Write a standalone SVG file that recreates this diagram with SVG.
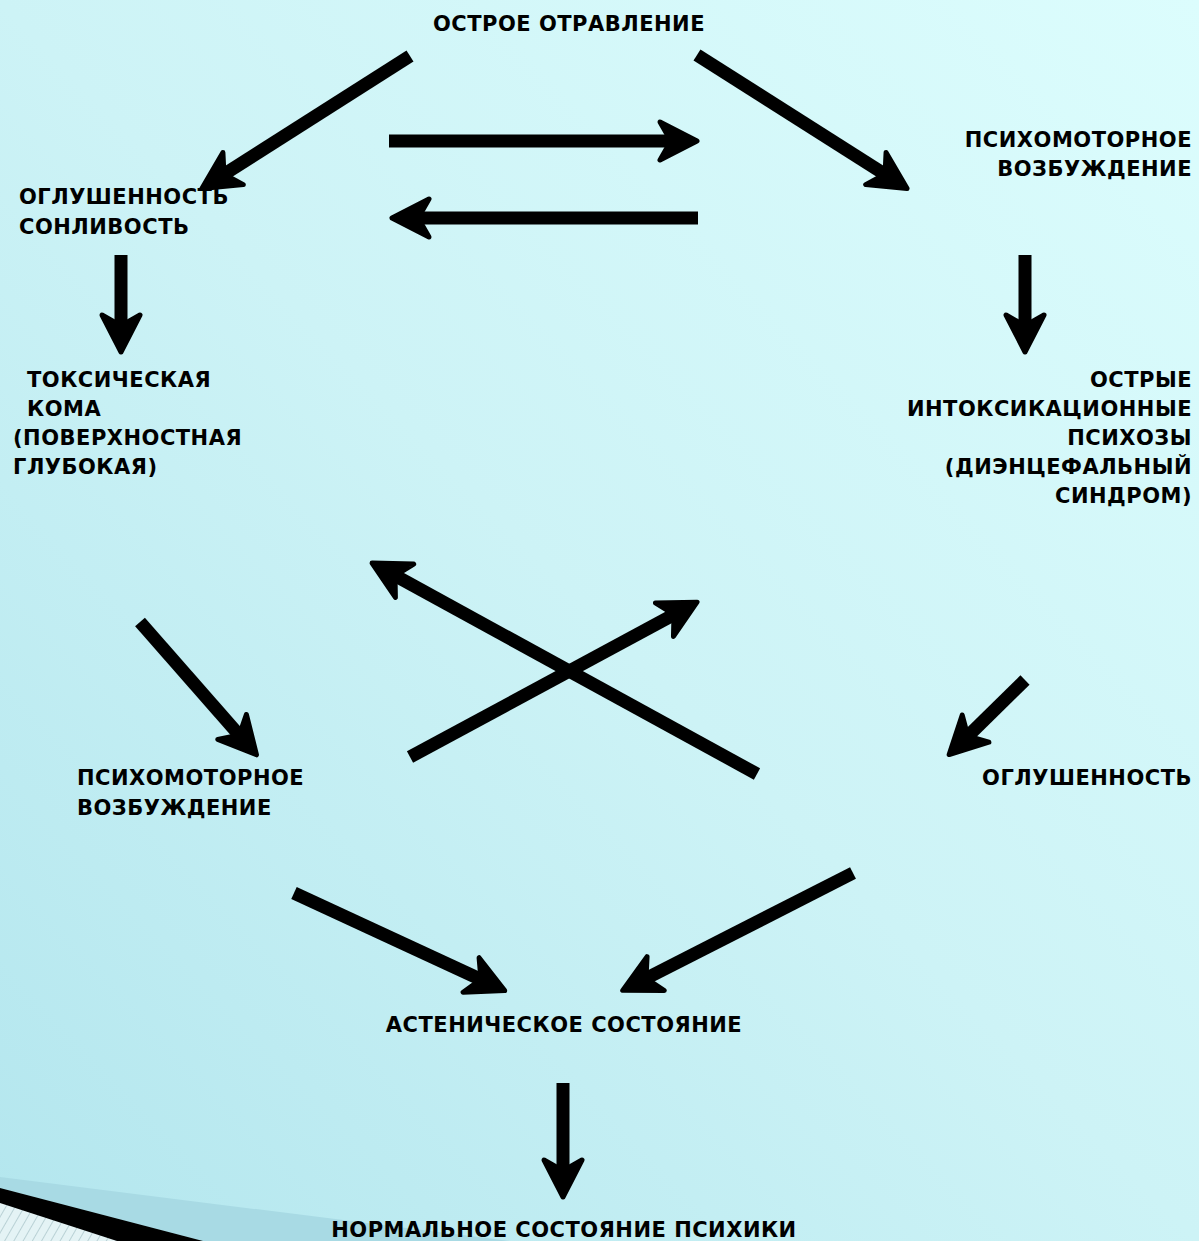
<svg xmlns="http://www.w3.org/2000/svg" width="1199" height="1241" viewBox="0 0 1199 1241">
<defs>
<linearGradient id="bg" x1="1" y1="0" x2="0" y2="1">
<stop offset="0" stop-color="#dcfdfd"/>
<stop offset="0.5" stop-color="#cdf3f6"/>
<stop offset="1" stop-color="#b3e6ee"/>
</linearGradient>
<pattern id="hatch" width="8" height="8" patternUnits="userSpaceOnUse" patternTransform="rotate(30)">
<rect width="8" height="8" fill="#e4f3f5"/>
<line x1="0" y1="0" x2="0" y2="8" stroke="#8fb0b6" stroke-width="1"/>
</pattern>
<marker id="ah" markerUnits="userSpaceOnUse" viewBox="-50 -30 60 60" markerWidth="60" markerHeight="60" refX="-25" refY="0" orient="auto" overflow="visible">
<path d="M0,0 L-37,-19 L-29,-5 L-29,5 L-37,19 Z" fill="#000" stroke="#000" stroke-width="5" stroke-linejoin="round"/>
</marker>
<style>
text{font-family:"DejaVu Sans","Verdana",sans-serif;font-weight:bold;font-size:21px;letter-spacing:0.5px;fill:#000}
.r{text-anchor:end}
.m{text-anchor:middle}
.c{fill:none;stroke:#000;stroke-width:13;stroke-linecap:butt;marker-end:url(#ah)}
</style>
</defs>
<rect width="1199" height="1241" fill="url(#bg)"/>
<g id="decor">
<polygon points="0,1177 510,1241 203,1241 0,1188" fill="#a8dae4"/>
<polygon points="0,1188 203,1241 0,1241" fill="#000"/>
<polygon points="0,1203 117,1241 0,1241" fill="url(#hatch)"/>
</g>
<g id="n1"><text class="m" x="569" y="31">ОСТРОЕ ОТРАВЛЕНИЕ</text></g>
<g id="n2"><text class="r" x="1192" y="147">ПСИХОМОТОРНОЕ</text><text class="r" x="1192" y="176">ВОЗБУЖДЕНИЕ</text></g>
<g id="n3"><text x="19" y="204">ОГЛУШЕННОСТЬ</text><text x="19" y="234">СОНЛИВОСТЬ</text></g>
<g id="n4"><text x="27" y="387">ТОКСИЧЕСКАЯ</text><text x="27" y="416">КОМА</text><text x="13" y="445">(ПОВЕРХНОСТНАЯ</text><text x="13" y="474">ГЛУБОКАЯ)</text></g>
<g id="n5"><text class="r" x="1192" y="387">ОСТРЫЕ</text><text class="r" x="1192" y="416">ИНТОКСИКАЦИОННЫЕ</text><text class="r" x="1192" y="445">ПСИХОЗЫ</text><text class="r" x="1192" y="474">(ДИЭНЦЕФАЛЬНЫЙ</text><text class="r" x="1192" y="503">СИНДРОМ)</text></g>
<g id="n6"><text x="77" y="785">ПСИХОМОТОРНОЕ</text><text x="77" y="815">ВОЗБУЖДЕНИЕ</text></g>
<g id="n7"><text class="r" x="1192" y="785">ОГЛУШЕННОСТЬ</text></g>
<g id="n8"><text class="m" x="564" y="1032">АСТЕНИЧЕСКОЕ СОСТОЯНИЕ</text></g>
<g id="n9"><text class="m" x="564" y="1237">НОРМАЛЬНОЕ СОСТОЯНИЕ ПСИХИКИ</text></g>
<g id="connectors">
<path class="c" d="M410,56 L223,175"/>
<path class="c" d="M697,55 L886,175"/>
<path class="c" d="M389,141 L672,141"/>
<path class="c" d="M698,218 L417,218"/>
<path class="c" d="M121,255 L121,327"/>
<path class="c" d="M1025,255 L1025,327"/>
<path class="c" d="M757,774 L394,575"/>
<path class="c" d="M410,757 L675,614"/>
<path class="c" d="M140,622 L240,736"/>
<path class="c" d="M1025,680 L967,737"/>
<path class="c" d="M294,893 L482,980"/>
<path class="c" d="M853,873 L645,979"/>
<path class="c" d="M563,1083 L563,1172"/>
</g>
</svg>
